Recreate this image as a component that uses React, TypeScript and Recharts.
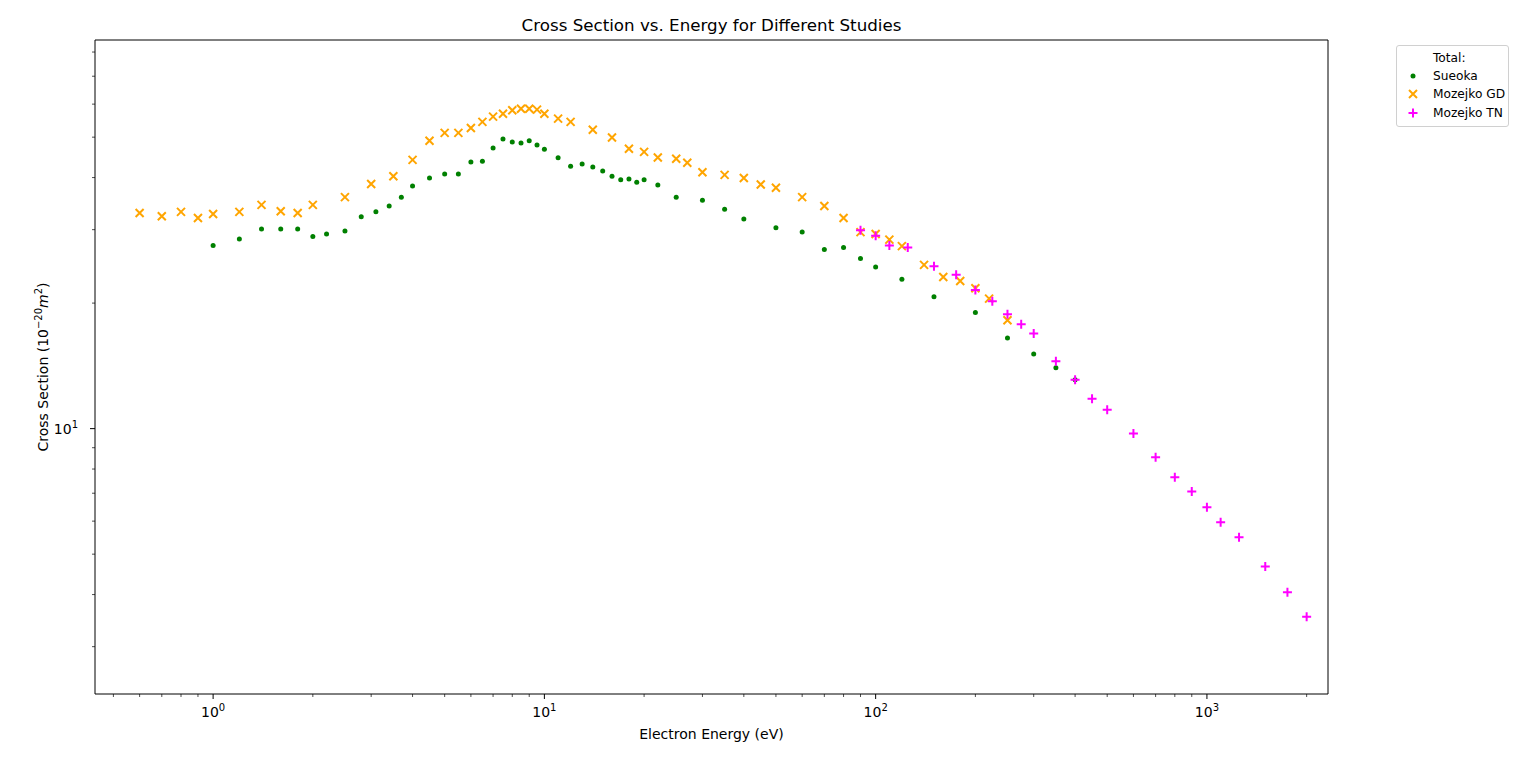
import {ScatterChart, Scatter, XAxis, YAxis, Legend, ReferenceArea, Label} from 'recharts';

// energies (eV) and total cross sections (1e-20 m^2)
const sueokaEnergy = [1, 1.2, 1.4, 1.6, 1.8, 2, 2.2, 2.5, 2.8, 3.1, 3.4, 3.7, 4, 4.5, 5, 5.5, 6, 6.5, 7, 7.5, 8, 8.5, 9, 9.5, 10, 11, 12, 13, 14, 15, 16, 17, 18, 19, 20, 22, 25, 30, 35, 40, 50, 60, 70, 80, 90, 100, 120, 150, 200, 250, 300, 350, 400];
const sueokaCs = [27.5, 28.5, 30.1, 30.1, 30.1, 28.9, 29.3, 29.8, 32.2, 33.1, 34.2, 35.9, 38.2, 39.9, 40.8, 40.8, 43.6, 43.8, 47.1, 49.5, 48.7, 48.4, 49.0, 47.9, 46.8, 44.6, 42.6, 43.1, 42.4, 41.5, 40.3, 39.5, 39.7, 39.0, 39.5, 38.4, 35.9, 35.3, 33.6, 31.8, 30.3, 29.6, 26.9, 27.2, 25.6, 24.4, 22.8, 20.7, 19.0, 16.5, 15.1, 14.0, 13.1];

const gdEnergy = [0.6, 0.7, 0.8, 0.9, 1, 1.2, 1.4, 1.6, 1.8, 2, 2.5, 3, 3.5, 4, 4.5, 5, 5.5, 6, 6.5, 7, 7.5, 8, 8.5, 9, 9.5, 10, 11, 12, 14, 16, 18, 20, 22, 25, 27, 30, 35, 40, 45, 50, 60, 70, 80, 90, 100, 110, 120, 140, 160, 180, 200, 220, 250];
const gdCs = [32.9, 32.3, 33.1, 32.0, 32.7, 33.1, 34.4, 33.2, 32.9, 34.4, 35.9, 38.6, 40.3, 44.1, 49.0, 51.2, 51.2, 52.6, 54.4, 56.0, 56.9, 58.0, 58.5, 58.5, 58.2, 56.9, 55.4, 54.4, 52.1, 49.9, 46.9, 46.1, 44.7, 44.4, 43.4, 41.2, 40.6, 39.9, 38.5, 37.8, 35.9, 34.2, 32.0, 29.6, 29.3, 28.4, 27.4, 24.7, 23.1, 22.6, 21.7, 20.5, 18.2];

const tnEnergy = [90, 100, 110, 125, 150, 175, 200, 225, 250, 275, 300, 350, 400, 450, 500, 600, 700, 800, 900, 1000, 1100, 1250, 1500, 1750, 2000];
const tnCs = [29.9, 29.0, 27.5, 27.2, 24.5, 23.4, 21.5, 20.2, 18.8, 17.8, 16.9, 14.5, 13.1, 11.8, 11.1, 9.74, 8.54, 7.65, 7.07, 6.48, 5.96, 5.49, 4.67, 4.05, 3.54];

const xDomain = [0.44, 2320];
const yDomain = [2.31, 85.5];
const xTicks = [0.5, 0.6, 0.7, 0.8, 0.9, 1, 2, 3, 4, 5, 6, 7, 8, 9, 10, 20, 30, 40, 50, 60, 70, 80, 90, 100, 200, 300, 400, 500, 600, 700, 800, 900, 1000, 2000];
const yTicks = [3, 4, 5, 6, 7, 8, 9, 10, 20, 30, 40, 50, 60, 70, 80];

const toPoints = (e: number[], q: number[]) => e.map((v, i) => ({energy: v, cs: q[i]}));
const sueoka = toPoints(sueokaEnergy, sueokaCs);
const mozejkoGD = toPoints(gdEnergy, gdCs);
const mozejkoTN = toPoints(tnEnergy, tnCs);

const FONT = '"DejaVu Sans", sans-serif';
const GREEN = '#008000';
const ORANGE = '#FFA500';
const MAGENTA = '#FF00FF';

const isMajor = (v: number) => Math.abs(Math.log10(v) - Math.round(Math.log10(v))) < 1e-6;

const Dot = ({cx, cy}: any) => <circle cx={cx} cy={cy} r={2.5} fill={GREEN}/>;
const Cross = ({cx, cy}: any) => (
	<path d={`M${cx - 4} ${cy - 4}L${cx + 4} ${cy + 4}M${cx - 4} ${cy + 4}L${cx + 4} ${cy - 4}`} stroke={ORANGE} strokeWidth={2}/>
);
const Plus = ({cx, cy}: any) => (
	<path d={`M${cx - 4.5} ${cy}L${cx + 4.5} ${cy}M${cx} ${cy - 4.5}L${cx} ${cy + 4.5}`} stroke={MAGENTA} strokeWidth={2}/>
);

function XTick({x, y, payload}: any) {
	const v = payload.value;
	const major = isMajor(v);
	return (
		<g>
			<line x1={x} x2={x} y1={y} y2={y + (major ? 5 : 3)} stroke="#000" strokeWidth={major ? 1 : 0.7}/>
			{major && (
				<text x={x} y={y + 23} textAnchor="middle" fontSize={14} fontFamily={FONT} fill="#000">
					10<tspan dy={-6} fontSize={10}>{Math.round(Math.log10(v))}</tspan>
				</text>
			)}
		</g>
	);
}

function YTick({x, y, payload}: any) {
	const v = payload.value;
	const major = isMajor(v);
	return (
		<g>
			<line x1={x - (major ? 5 : 3)} x2={x} y1={y} y2={y} stroke="#000" strokeWidth={major ? 1 : 0.7}/>
			{major && (
				<text x={x - 17} y={y + 5} textAnchor="end" fontSize={14} fontFamily={FONT} fill="#000">
					10<tspan dy={-6} fontSize={10}>{Math.round(Math.log10(v))}</tspan>
				</text>
			)}
		</g>
	);
}

const legendItems = [
	{name: 'Sueoka', color: GREEN, kind: 'dot'},
	{name: 'Mozejko GD', color: ORANGE, kind: 'x'},
	{name: 'Mozejko TN', color: MAGENTA, kind: 'plus'},
];

function LegendBox() {
	return (
		<div style={{
			border: '1px solid #d0d0d0', borderRadius: 3, background: 'rgba(255,255,255,0.8)',
			fontFamily: FONT, fontSize: 12.2, color: '#000', padding: '3px 3px 4px 8px', width: 'max-content',
		}}>
			<div style={{paddingLeft: 28, lineHeight: '18px'}}>Total:</div>
			{legendItems.map((it) => (
				<div key={it.name} style={{display: 'flex', alignItems: 'center', height: 18.3}}>
					<svg width={28} height={14} style={{flexShrink: 0}}>
						{it.kind === 'dot' && <circle cx={8} cy={7} r={2.5} fill={it.color}/>}
						{it.kind === 'x' && <path d="M4 3L12 11M4 11L12 3" stroke={it.color} strokeWidth={2}/>}
						{it.kind === 'plus' && <path d="M3.5 7L12.5 7M8 2.5L8 11.5" stroke={it.color} strokeWidth={2}/>}
					</svg>
					<span style={{whiteSpace: 'nowrap'}}>{it.name}</span>
				</div>
			))}
		</div>
	);
}

export default function App() {
	return (
		<div style={{position: 'absolute', left: 0, top: 0, width: 1536, height: 762, background: '#fff'}}>
			<ScatterChart
				width={1536}
				height={762}
				margin={{top: 40, right: 208, left: 35, bottom: 28}}
			>
				<XAxis
					dataKey="energy"
					type="number"
					scale="log"
					domain={xDomain}
					allowDataOverflow
					ticks={xTicks}
					interval={0}
					tick={<XTick/>}
					tickSize={0}
					tickMargin={0}
					height={40}
					axisLine={false}
				>
					<Label
						content={({viewBox}: any) => (
							<text x={viewBox.x + viewBox.width / 2} y={viewBox.y + 45} textAnchor="middle" fontSize={14} fontFamily={FONT} fill="#000">
								Electron Energy (eV)
							</text>
						)}
					/>
				</XAxis>
				<YAxis
					dataKey="cs"
					type="number"
					scale="log"
					domain={yDomain}
					allowDataOverflow
					ticks={yTicks}
					interval={0}
					tick={<YTick/>}
					tickSize={0}
					tickMargin={0}
					width={60}
					axisLine={false}
				>
					<Label
						content={({viewBox}: any) => {
							const cx = viewBox.x + 13;
							const cy = viewBox.y + viewBox.height / 2;
							return (
								<text x={cx} y={cy} transform={`rotate(-90 ${cx} ${cy})`} textAnchor="middle" fontSize={14} fontFamily={FONT} fill="#000">
									Cross Section (10<tspan dy={-6} fontSize={10}>−20</tspan><tspan dy={6} fontStyle="italic">m</tspan><tspan dy={-6} fontSize={10}>2</tspan><tspan dy={6}>)</tspan>
								</text>
							);
						}}
					/>
				</YAxis>
				<ReferenceArea
					x1={xDomain[0]}
					x2={xDomain[1]}
					y1={yDomain[0]}
					y2={yDomain[1]}
					fill="none"
					stroke="#000"
					strokeWidth={1}
					label={{value: 'Cross Section vs. Energy for Different Studies', position: 'top', offset: 9, fontSize: 16.7, fontFamily: FONT, fill: '#000'}}
				/>
				<Scatter name="Sueoka" data={sueoka} shape={<Dot/>} isAnimationActive={false}/>
				<Scatter name="Mozejko GD" data={mozejkoGD} shape={<Cross/>} isAnimationActive={false}/>
				<Scatter name="Mozejko TN" data={mozejkoTN} shape={<Plus/>} isAnimationActive={false}/>
				<Legend
					layout="vertical"
					align="center"
					verticalAlign="middle"
					content={<LegendBox/>}
					wrapperStyle={{left: 1396, top: 45, width: 'auto', height: 'auto'}}
				/>
			</ScatterChart>
		</div>
	);
}
